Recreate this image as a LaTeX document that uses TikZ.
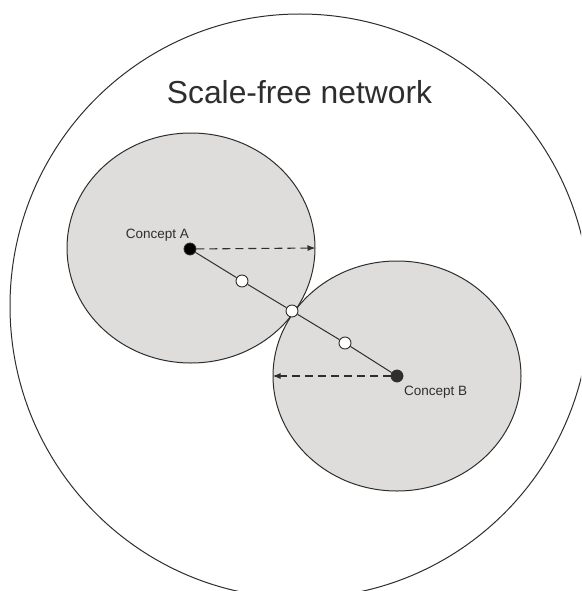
\documentclass[tikz,border=0pt]{standalone}
\usepackage{fontspec}
\setmainfont{Liberation Sans}
\usetikzlibrary{shapes.geometric,arrows.meta}
\definecolor{regionfill}{HTML}{DEDDDB}
\definecolor{inkline}{HTML}{2E2E2E}
\tikzset{
  region/.style={ellipse, inner sep=0pt, minimum width=248pt, minimum height=230pt},
  concept/.style={circle, inner sep=0pt, minimum size=12pt, draw=inkline, line width=0.8pt},
  waypoint/.style={circle, inner sep=0pt, minimum size=12pt, draw=inkline, fill=white, line width=0.9pt},
  link/.style={draw=inkline, line width=1pt},
  radius arrow/.style={draw=inkline, line width=1.1pt, dash pattern=on 8pt off 5pt,
    -{Latex[length=8pt,width=6pt]}},
  label/.style={font=\fontsize{13.5pt}{16pt}\selectfont, text=inkline, inner sep=0pt}
}
\begin{document}
\begin{tikzpicture}[x={(1pt,0pt)}, y={(0pt,-1pt)}]
  \useasboundingbox (0,0) rectangle (581,591);
  \clip (0,0) rectangle (581,591);
  \fill[white] (0,0) rectangle (581,591);

  % the whole network
  \node[ellipse, inner sep=0pt, minimum width=580pt, minimum height=584pt, draw=inkline, line width=1pt] (net) at (300,306) {};
  \node[label, font=\fontsize{31.8pt}{36pt}\selectfont, anchor=base] (title) at (299.5,103) {Scale-free network};

  % neighbourhoods of the two concepts: fill both, then outline both
  \node[region, fill=regionfill] (regA) at (191,248) {};
  \node[region, fill=regionfill] (regB) at (397,376) {};
  \node[region, draw=inkline, line width=1pt] (outA) at (191,248) {};
  \node[region, draw=inkline, line width=1pt] (outB) at (397,376) {};

  % path between the concepts
  \node[concept, fill=black] (A) at (190,249) {};
  \node[concept, fill=inkline] (B) at (397,376) {};
  \node[waypoint] (p1) at (242,281) {};
  \node[waypoint] (p2) at (292,311) {};
  \node[waypoint] (p3) at (345,343) {};
  \draw[link] (A) -- (p1);
  \draw[link] (p1) -- (p2);
  \draw[link] (p2) -- (p3);
  \draw[link] (p3) -- (B);

  % radii of the neighbourhoods
  \draw[radius arrow] (A) -- (outA.east);
  \draw[radius arrow] (B) -- (outB.west);

  \node[label, anchor=base east] (labA) at (189,238) {Concept A};
  \node[label, anchor=base west] (labB) at (404,395) {Concept B};
\end{tikzpicture}
\end{document}
